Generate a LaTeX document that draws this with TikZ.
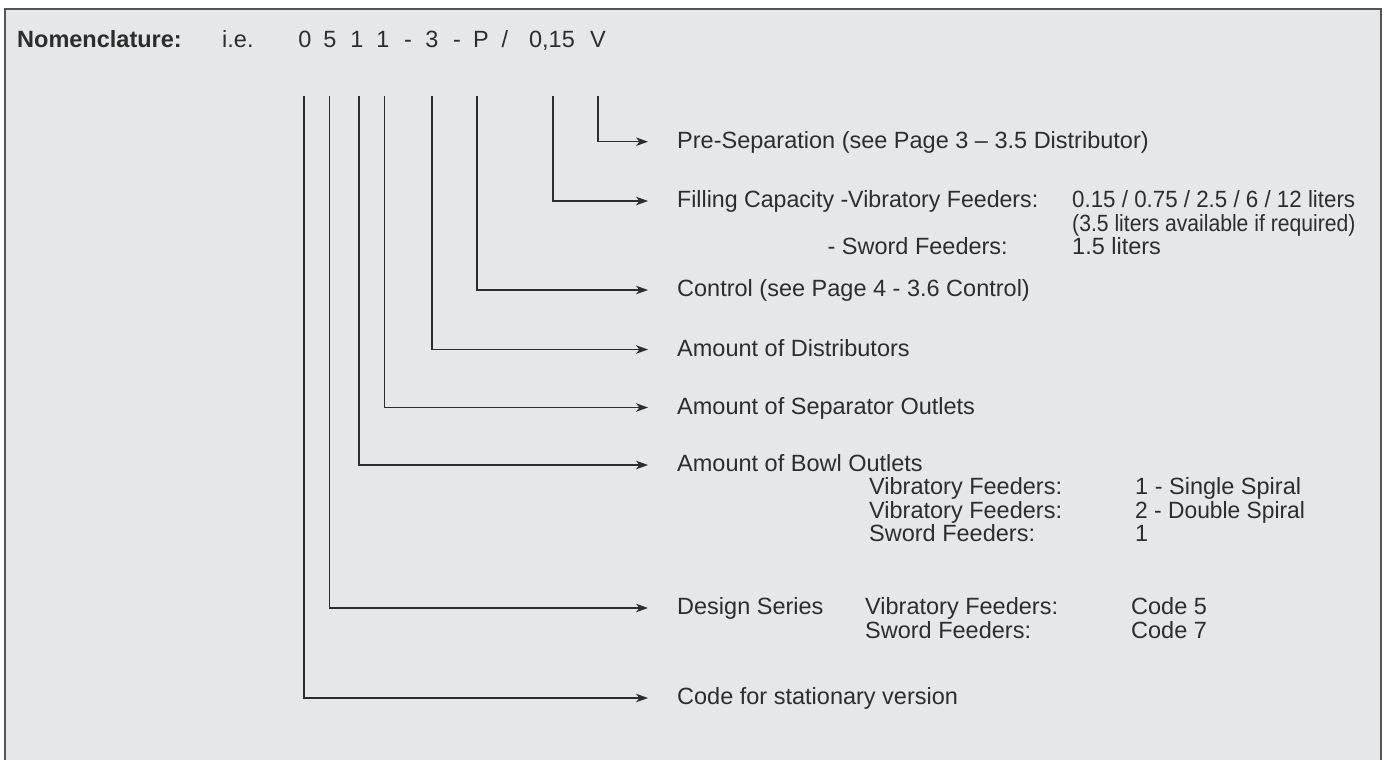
\documentclass[tikz,border=0pt]{standalone}
\usepackage{graphicx}
\usepackage{fontspec}
\setmainfont{Liberation Sans}
\usetikzlibrary{arrows.meta}
\definecolor{bg}{RGB}{230,231,233}
\definecolor{frm}{RGB}{85,85,85}
\definecolor{ink}{RGB}{45,45,45}
\tikzset{
  txt/.style={inner sep=0pt, text=ink, font=\fontsize{23.5}{23.5}\selectfont, anchor=base west},
  lbl/.style={txt, anchor=west, text height=17pt, text depth=4pt},
  chr/.style={txt, anchor=base},
  conn/.style={draw=ink, line width=1.4pt, -{Stealth[length=12pt,width=8.5pt,inset=3.5pt]}},
}
\begin{document}
\begin{tikzpicture}[x=1pt,y=-1pt]
\useasboundingbox (0,0) rectangle (1387,760);
\fill[white] (0,0) rectangle (1387,760);
\draw[frm, line width=2pt, fill=bg] (5,9.5) rectangle (1380.5,790);

% header
\node[txt, font=\fontsize{23.5}{23.5}\selectfont\bfseries] (nom) at (17,48) {Nomenclature:};
\node[txt] (ie) at (222,48) {i.e.};
\node[chr] (c0) at (305,48) {0};
\node[chr] (c1) at (330,48) {5};
\node[chr] (c2) at (357,48) {1};
\node[chr] (c3) at (383,48) {1};
\node[chr] (h1) at (408,48) {-};
\node[chr] (c4) at (432,48) {3};
\node[chr] (h2) at (457,48) {-};
\node[chr] (c5) at (481,48) {P};
\node[chr] (sl) at (505,48) {/};
\node[chr] (c6) at (552,48) {0,15};
\node[chr] (c7) at (598,48) {V};

% line start points under the characters
\coordinate (s0) at (304,96);
\coordinate (s1) at (329.5,96);
\coordinate (s2) at (359,96);
\coordinate (s3) at (384.5,96);
\coordinate (s4) at (432,96);
\coordinate (s5) at (477,96);
\coordinate (s6) at (553,96);
\coordinate (s7) at (598,96);

% labels
\node[lbl] (l7) at (677,141.7) {Pre-Separation (see Page 3 – 3.5 Distributor)};
\node[lbl] (l6) at (677,201) {\scalebox{0.985}[1]{Filling Capacity -Vibratory Feeders:}};
\node[lbl] (l5) at (677,290) {Control (see Page 4 - 3.6 Control)};
\node[lbl] (l4) at (677,349.5) {Amount of Distributors};
\node[lbl] (l3) at (677,407.5) {Amount of Separator Outlets};
\node[lbl] (l2) at (677,465) {Amount of Bowl Outlets};
\node[lbl] (l1) at (677,608) {Design Series};
\node[lbl] (l0) at (677,698) {Code for stationary version};

% filling capacity details
\node[txt] (f1) at (1072,207.5) {\scalebox{0.95}[1]{0.15 / 0.75 / 2.5 / 6 / 12 liters}};
\node[txt] (f2) at (1072,231) {\scalebox{0.9}[1]{(3.5 liters available if required)}};
\node[txt, anchor=base east] (f3) at (1008,254) {- Sword Feeders:};
\node[txt] (f4) at (1072,254) {1.5 liters};

% bowl outlets details
\node[txt] (b1) at (869,494.5) {Vibratory Feeders:};
\node[txt] (b2) at (1135,494.5) {1 - Single Spiral};
\node[txt] (b3) at (869,518) {Vibratory Feeders:};
\node[txt] (b4) at (1135,518) {\scalebox{0.97}[1]{2 - Double Spiral}};
\node[txt] (b5) at (869,541.5) {Sword Feeders:};
\node[txt] (b6) at (1135,541.5) {1};

% design series details
\node[txt] (d1) at (865,614.5) {Vibratory Feeders:};
\node[txt] (d2) at (1131,614.5) {Code 5};
\node[txt] (d3) at (865,638) {Sword Feeders:};
\node[txt] (d4) at (1131,638) {Code 7};

% connectors
\draw[conn] (s7) |- ([xshift=-29pt]l7.west);
\draw[conn] (s6) |- ([xshift=-29pt]l6.west);
\draw[conn] (s5) |- ([xshift=-29pt]l5.west);
\draw[conn] (s4) |- ([xshift=-29pt]l4.west);
\draw[conn] (s3) |- ([xshift=-29pt]l3.west);
\draw[conn] (s2) |- ([xshift=-29pt]l2.west);
\draw[conn] (s1) |- ([xshift=-29pt]l1.west);
\draw[conn] (s0) |- ([xshift=-29pt]l0.west);
\end{tikzpicture}
\end{document}
